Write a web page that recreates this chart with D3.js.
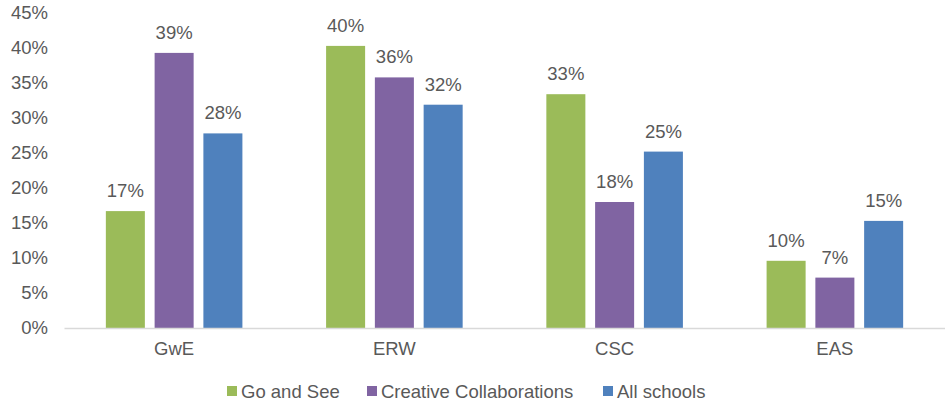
<!DOCTYPE html>
<html>
<head>
<meta charset="utf-8">
<script src="https://cdn.jsdelivr.net/npm/d3@7"></script>
<style>
  body { margin: 0; background: #fff; }
  text { font-family: "Liberation Sans", Arial, sans-serif; fill: #595959; }
</style>
</head>
<body>
<svg id="chart"></svg>
<script>
// data
var regions = ["GwE", "ERW", "CSC", "EAS"];
var seriesNames = ["Go and See", "Creative Collaborations", "All schools"];
var seriesColors = ["#9bbb59", "#8064a2", "#4f81bd"];
var goAndSee = [16.7, 40.3, 33.4, 9.6];
var creative = [39.3, 35.8, 18.0, 7.2];
var allSchools = [27.8, 31.9, 25.2, 15.3];
var yTicks = [0, 5, 10, 15, 20, 25, 30, 35, 40, 45];

var width = 945, height = 410;
var margin = {top: 13, right: 0, bottom: 82, left: 64};

var svg = d3.select("#chart").attr("width", width).attr("height", height);

var x0 = d3.scaleBand()
    .domain(regions)
    .range([margin.left, width - margin.right])
    .paddingInner(0.38)
    .paddingOuter(0.19);

var x1 = d3.scaleBand()
    .domain(seriesNames)
    .range([0, x0.bandwidth()])
    .paddingInner(0.2);

var y = d3.scaleLinear()
    .domain([0, 45])
    .range([height - margin.bottom, margin.top]);

var values = [goAndSee, creative, allSchools];
var rows = [];
regions.forEach(function(r, i){
    seriesNames.forEach(function(s, j){
        rows.push({region: r, series: s, value: values[j][i], color: seriesColors[j]});
    });
});

// y axis labels only
var yAxis = d3.axisLeft(y).tickValues(yTicks).tickFormat(function(d){ return d + "%"; }).tickSize(0).tickPadding(16);
var gy = svg.append("g").attr("transform", "translate(" + margin.left + ",0)").call(yAxis);
gy.select(".domain").remove();
gy.selectAll("text").style("font-size", "18.5px").attr("fill", "#595959");

// bars
svg.append("g").selectAll("rect")
    .data(rows)
    .enter()
    .append("rect")
    .attr("x", function(d){ return x0(d.region) + x1(d.series); })
    .attr("y", function(d){ return y(d.value); })
    .attr("width", x1.bandwidth())
    .attr("height", function(d){ return y(0) - y(d.value); })
    .attr("fill", function(d){ return d.color; });

// value labels
svg.append("g").selectAll("text")
    .data(rows)
    .enter()
    .append("text")
    .attr("x", function(d){ return x0(d.region) + x1(d.series) + x1.bandwidth() / 2; })
    .attr("y", function(d){ return y(d.value) - 14; })
    .attr("text-anchor", "middle")
    .style("font-size", "18.5px")
    .text(function(d){ return Math.round(d.value) + "%"; });

// x axis
var xAxis = d3.axisBottom(x0).tickSize(0).tickPadding(14);
var gx = svg.append("g").attr("transform", "translate(0," + y(0) + ")").call(xAxis);
gx.select(".domain").attr("stroke", "#d9d9d9").attr("stroke-width", 1.3);
gx.selectAll("text").style("font-size", "18.5px").attr("fill", "#595959");

// legend
var legendX = [227, 367, 603];
var legend = svg.append("g").selectAll("g")
    .data(seriesNames)
    .enter()
    .append("g")
    .attr("transform", function(d, i){ return "translate(" + legendX[i] + ",386)"; });
legend.append("rect")
    .attr("width", 10).attr("height", 10)
    .attr("fill", function(d, i){ return seriesColors[i]; });
legend.append("text")
    .attr("x", 14).attr("y", 12)
    .style("font-size", "18.5px")
    .text(function(d){ return d; });
</script>
</body>
</html>
